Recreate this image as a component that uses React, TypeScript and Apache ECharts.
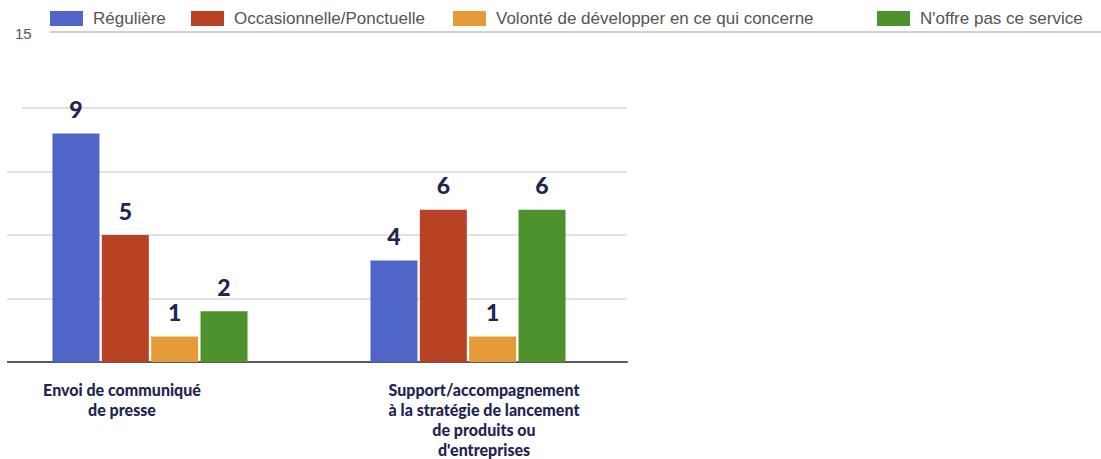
import React, { useEffect, useRef } from "react";
import * as echarts from "echarts";

const categories = [
  "Envoi de communiqué\nde presse",
  "Support/accompagnement\nà la stratégie de lancement\nde produits ou\nd'entreprises",
];
const seriesNames = [
  "Régulière",
  "Occasionnelle/Ponctuelle",
  "Volonté de développer en ce qui concerne",
  "N'offre pas ce service",
];
const regulier = [9, 4];
const occasionnelle = [5, 6];
const volonte = [1, 1];
const noffre = [2, 6];
const gridValues = [2.5, 5, 7.5, 10];
const topTickLabel = "15";

const colors = ["#4F66C8", "#B94124", "#E49B38", "#4E922E"];
const legendLefts = [50, 191, 453, 877];
const OFF = 20; // the chart div starts OFF px left of the page

export default function App() {
  const ref = useRef<HTMLDivElement>(null);
  useEffect(() => {
    if (!ref.current) return;
    const chart = echarts.init(ref.current, null, { renderer: "svg" });
    const values = [regulier, occasionnelle, volonte, noffre];
    const labelFont = "Lato, 'Open Sans', sans-serif";
    const series: any[] = values.map((d, i) => ({
      name: seriesNames[i],
      type: "bar",
      data: d,
      barWidth: 47,
      barGap: "5%",
      itemStyle: { color: colors[i] },
      label: {
        show: true,
        position: "top",
        distance: 13,
        color: "#1F2552",
        fontFamily: labelFont,
        fontWeight: 900,
        fontSize: 23,
      },
      markLine:
        i === 0
          ? {
              silent: true,
              symbol: "none",
              label: { show: false },
              lineStyle: { color: "#E2E2E2", width: 2, type: "solid" },
              data: gridValues.map((v) => ({ yAxis: v })),
              z: 0,
            }
          : undefined,
    }));
    chart.setOption({
      animation: false,
      legend: seriesNames.map((n, i) => ({
        data: [n],
        left: legendLefts[i] + OFF,
        top: 10,
        padding: 0,
        itemWidth: 33,
        itemHeight: 15,
        icon: "rect",
        selectedMode: false,
        textStyle: {
          color: "#555",
          fontSize: 17,
          fontFamily: "'Liberation Sans', Arial, sans-serif",
          padding: [0, 0, 0, 5],
        },
      })),
      graphic: [
        {
          type: "rect",
          shape: { x: 0, y: 40, width: OFF + 7, height: 330 },
          style: { fill: "#fff" },
          z: 100,
        },
        {
          type: "rect",
          shape: { x: 0, y: 103, width: OFF + 22, height: 8 },
          style: { fill: "#fff" },
          z: 100,
        },
        {
          type: "line",
          shape: { x1: OFF + 50, y1: 32, x2: OFF + 1101, y2: 32 },
          style: { stroke: "#D0D0D0", lineWidth: 2 },
        },
        {
          type: "text",
          x: OFF + 15,
          y: 26,
          style: {
            text: topTickLabel,
            fill: "#555",
            fontSize: 15,
            fontFamily: "'Liberation Sans', Arial, sans-serif",
          },
        },
      ],
      grid: { left: OFF - 9, right: 474, top: 32, bottom: 97 },
      xAxis: {
        type: "category",
        data: [
          { value: categories[0], textStyle: { padding: [0, 56, 0, 0] } },
          { value: categories[1], textStyle: { padding: [0, 0, 0, 32] } },
        ],
        axisLine: { lineStyle: { color: "#5A5A5A", width: 2 } },
        axisTick: { show: false },
        axisLabel: {
          interval: 0,
          margin: 17,
          color: "#1F2552",
          fontFamily: labelFont,
          fontWeight: 900,
          fontSize: 16,
          lineHeight: 20,
        },
      },
      yAxis: {
        type: "value",
        min: 0,
        max: 13,
        axisLabel: { show: false },
        axisLine: { show: false },
        axisTick: { show: false },
        splitLine: { show: false },
      },
      series,
    });
    return () => chart.dispose();
  }, []);
  return (
    <div
      ref={ref}
      style={{
        position: "fixed",
        left: -OFF,
        top: 0,
        width: 1101 + OFF,
        height: 459,
        background: "#fff",
      }}
    />
  );
}
